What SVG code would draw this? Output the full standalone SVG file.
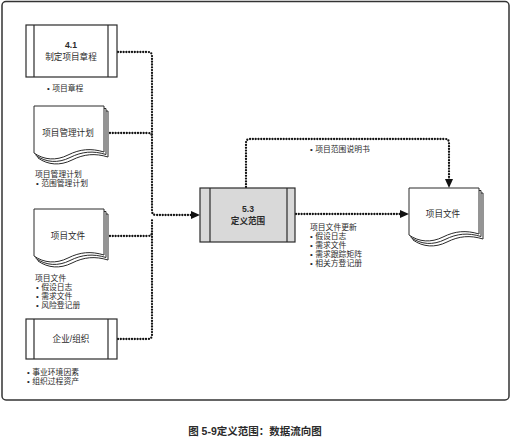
<svg xmlns="http://www.w3.org/2000/svg" xmlns:xlink="http://www.w3.org/1999/xlink" width="515" height="437" viewBox="0 0 515 437">
<style>
text{font-family:"Liberation Sans","Noto Sans CJK SC",sans-serif;fill:#2a2a2a}
.lbl{font-size:7.8px}
.nt{font-size:8.6px;text-anchor:middle}
.b{font-weight:bold}
.box{fill:#fff;stroke:#2a2a2a;stroke-width:1.2}
.proc{fill:#d9d9d9;stroke:#2a2a2a;stroke-width:1.2}
.ln{stroke:#2a2a2a;stroke-width:1.2}
.doc{fill:#fff;stroke:#2a2a2a;stroke-width:1}
.dot{fill:none;stroke:#111;stroke-width:2.3;stroke-dasharray:0 2.8;stroke-linecap:round}
</style>
<defs>
<path id="docp" d="M0,0 H70 V46 C57,42 46,43 34,49 C22,55 10,54 0,47 Z"/>
</defs>
<rect x="2" y="1.5" width="507" height="398.5" rx="4" fill="none" stroke="#333" stroke-width="1.5"/>

<g id="connectors">
<path class="dot" d="M118,52 H148 Q152,52 152,56 V211 Q152,215 156,215 H196"/>
<path class="dot" d="M110,133 H148 Q152,133 152,137"/>
<path class="dot" d="M110,236 H148 Q152,236 152,232 V219"/>
<path class="dot" d="M118,339 H148 Q152,339 152,335 V232"/>
<path d="M191,211 L200,215 L191,219 Z" fill="#111"/>
<path class="dot" d="M296,214 H402"/>
<path d="M400,210 L409,214 L400,218 Z" fill="#111"/>
<path class="dot" d="M246,187 V143 Q246,139 250,139 H445 Q449,139 449,143 V180"/>
<path d="M445,179 L449,188 L453,179 Z" fill="#111"/>
</g>

<g id="n41">
<rect class="box" x="26" y="25" width="91" height="52"/>
<line class="ln" x1="34" y1="25" x2="34" y2="77"/>
<line class="ln" x1="108" y1="25" x2="108" y2="77"/>
<text class="nt b" x="71" y="48">4.1</text>
<text class="nt" x="71" y="60">制定项目章程</text>
<text class="lbl" x="47" y="91">•<tspan dx="2.5">项目章程</tspan></text>
</g>

<g id="npmp">
<use href="#docp" class="doc" transform="translate(38,111)"/>
<use href="#docp" class="doc" transform="translate(36,108.5)"/>
<use href="#docp" class="doc" transform="translate(34,106)"/>
<text class="nt" x="68" y="136">项目管理计划</text>
<text class="lbl" x="35" y="177">项目管理计划</text>
<text class="lbl" x="36" y="186">•<tspan dx="2.5">范围管理计划</tspan></text>
</g>

<g id="npd">
<use href="#docp" class="doc" transform="translate(38,214)"/>
<use href="#docp" class="doc" transform="translate(36,211.5)"/>
<use href="#docp" class="doc" transform="translate(34,209)"/>
<text class="nt" x="68" y="239">项目文件</text>
<text class="lbl" x="35" y="281">项目文件</text>
<text class="lbl" x="36" y="290">•<tspan dx="2.5">假设日志</tspan></text>
<text class="lbl" x="36" y="299">•<tspan dx="2.5">需求文件</tspan></text>
<text class="lbl" x="36" y="308">•<tspan dx="2.5">风险登记册</tspan></text>
</g>

<g id="neo">
<rect class="box" x="26" y="319" width="91" height="40"/>
<line class="ln" x1="34" y1="319" x2="34" y2="359"/>
<line class="ln" x1="108" y1="319" x2="108" y2="359"/>
<text class="nt" x="71" y="342">企业/组织</text>
<text class="lbl" x="27" y="375">•<tspan dx="2.5">事业环境因素</tspan></text>
<text class="lbl" x="27" y="384">•<tspan dx="2.5">组织过程资产</tspan></text>
</g>

<g id="n53">
<rect class="proc" x="200" y="188" width="95" height="54"/>
<line class="ln" x1="210" y1="188" x2="210" y2="242"/>
<line class="ln" x1="287" y1="188" x2="287" y2="242"/>
<text class="nt b" x="248" y="212">5.3</text>
<text class="nt b" x="248" y="224">定义范围</text>
</g>

<g id="nout">
<use href="#docp" class="doc" transform="translate(413,193)"/>
<use href="#docp" class="doc" transform="translate(411,190.5)"/>
<use href="#docp" class="doc" transform="translate(409,188)"/>
<text class="nt" x="443" y="217">项目文件</text>
</g>

<g id="labels">
<text class="lbl" x="310" y="152">•<tspan dx="2.5">项目范围说明书</tspan></text>
<text class="lbl" x="310" y="230">项目文件更新</text>
<text class="lbl" x="310" y="239">•<tspan dx="2.5">假设日志</tspan></text>
<text class="lbl" x="310" y="248">•<tspan dx="2.5">需求文件</tspan></text>
<text class="lbl" x="310" y="257">•<tspan dx="2.5">需求跟踪矩阵</tspan></text>
<text class="lbl" x="310" y="266">•<tspan dx="2.5">相关方登记册</tspan></text>
</g>

<text x="255" y="435" text-anchor="middle" font-size="10.5" font-weight="bold">图 5-9定义范围：数据流向图</text>
</svg>
